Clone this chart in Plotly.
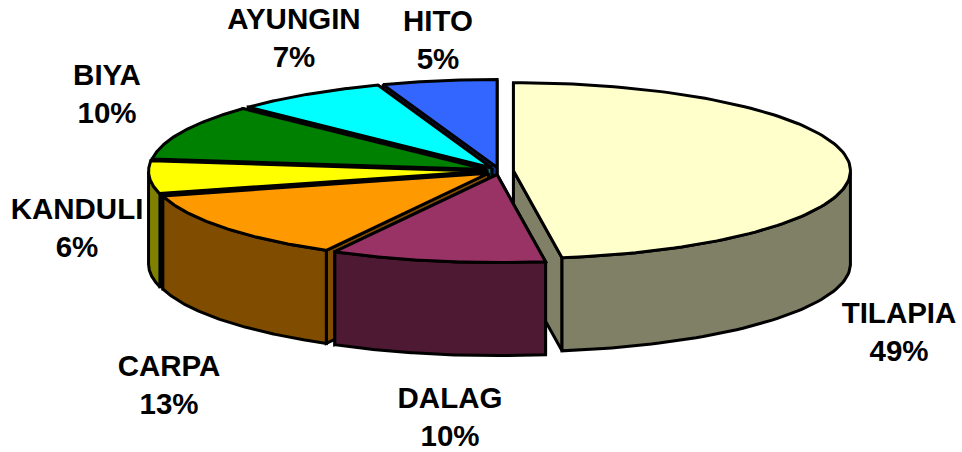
import numpy as np
import plotly.graph_objects as go

# ---- data (clockwise from 12 o'clock) ----
categories = ["TILAPIA", "DALAG", "CARPA", "KANDULI", "BIYA", "AYUNGIN", "HITO"]
percent = [49, 10, 13, 6, 10, 7, 5]

# ---- styling ----
top_colors = ["#FFFFCC", "#993366", "#FF9900", "#FFFF00", "#008000", "#00FFFF", "#3366FF"]
wall_colors = ["#808066", "#4D1933", "#804D00", "#808000", "#004000", "#008080", "#1A3380"]
label_centers = [(899, 315.5), (450, 400.5), (169, 368.5), (77, 211.5), (107, 78), (294, 21.5), (438, 23.5)]
LINE_GAP = 38
CX, CY, RX, RY, DEPTH, EXPLODE = 499.5, 171.0, 337.0, 88.0, 93.0, 0.0415

# Slice boundaries in degrees counter-clockwise from the top (Hito first),
# with the slight widening that the 3-D perspective of the source gives.
ccw = np.concatenate([[0], np.cumsum(np.array(percent[::-1], dtype=float)) * 3.6])
screen = ccw + 4.4 * (1 - np.exp(-ccw / 35.0)) - 0.7 * np.exp(-((ccw - 148) / 25.0) ** 2)
screen[-2] += 0.4
screen[-1] = 360.0
# per slice, clockwise angles from the top: (start, end)
spans = []
for i in range(len(percent)):
    j = len(percent) - 1 - i
    spans.append((360 - screen[j + 1], 360 - screen[j]))

fig = go.Figure()


def poly(xs, ys, fill):
    fig.add_trace(go.Scatter(
        x=np.append(xs, xs[0]), y=np.append(ys, ys[0]), mode="lines", fill="toself",
        fillcolor=fill, line=dict(color="black", width=3), hoverinfo="skip", showlegend=False))


# back-to-front painting order
for i in [0, 6, 5, 4, 3, 2, 1]:
    a0, a1 = spans[i]
    mid = np.radians((a0 + a1) / 2)
    vx = CX + EXPLODE * RX * np.sin(mid)
    vy = CY - EXPLODE * RY * np.cos(mid)
    ang = np.radians(np.linspace(a0, a1, 120))
    ax = vx + RX * np.sin(ang)
    ay = vy - RY * np.cos(ang)
    # radial cut walls, farther one first
    for k in sorted((0, -1), key=lambda n: ay[n]):
        poly(np.array([vx, ax[k], ax[k], vx]), np.array([vy, ay[k], ay[k] + DEPTH, vy + DEPTH]), wall_colors[i])
    # outer wall (front half only)
    front = np.cos(ang) < 0
    if front.sum() > 1:
        fx, fy = ax[front], ay[front]
        poly(np.concatenate([fx, fx[::-1]]), np.concatenate([fy, fy[::-1] + DEPTH]), wall_colors[i])
    # top face
    poly(np.concatenate([[vx], ax]), np.concatenate([[vy], ay]), top_colors[i])

# labels
lx, ly, lt = [], [], []
for name, p, (x, y) in zip(categories, percent, label_centers):
    lx += [x, x]
    ly += [y, y + LINE_GAP]
    lt += [name, f"{p}%"]
fig.add_trace(go.Scatter(
    x=lx, y=ly, text=lt, mode="text", textposition="middle center",
    textfont=dict(family="Liberation Sans", size=29.5, color="black", weight="bold"),
    hoverinfo="skip", showlegend=False))

fig.update_layout(
    width=962, height=452, margin=dict(l=0, r=0, t=0, b=0),
    paper_bgcolor="white", plot_bgcolor="white",
    xaxis=dict(range=[0, 962], visible=False, fixedrange=True),
    yaxis=dict(range=[452, 0], visible=False, fixedrange=True),
)
fig.write_html("out.html", config={"displayModeBar": False, "staticPlot": True},
               post_script="document.body.style.margin='0';document.documentElement.style.overflow='hidden';")
